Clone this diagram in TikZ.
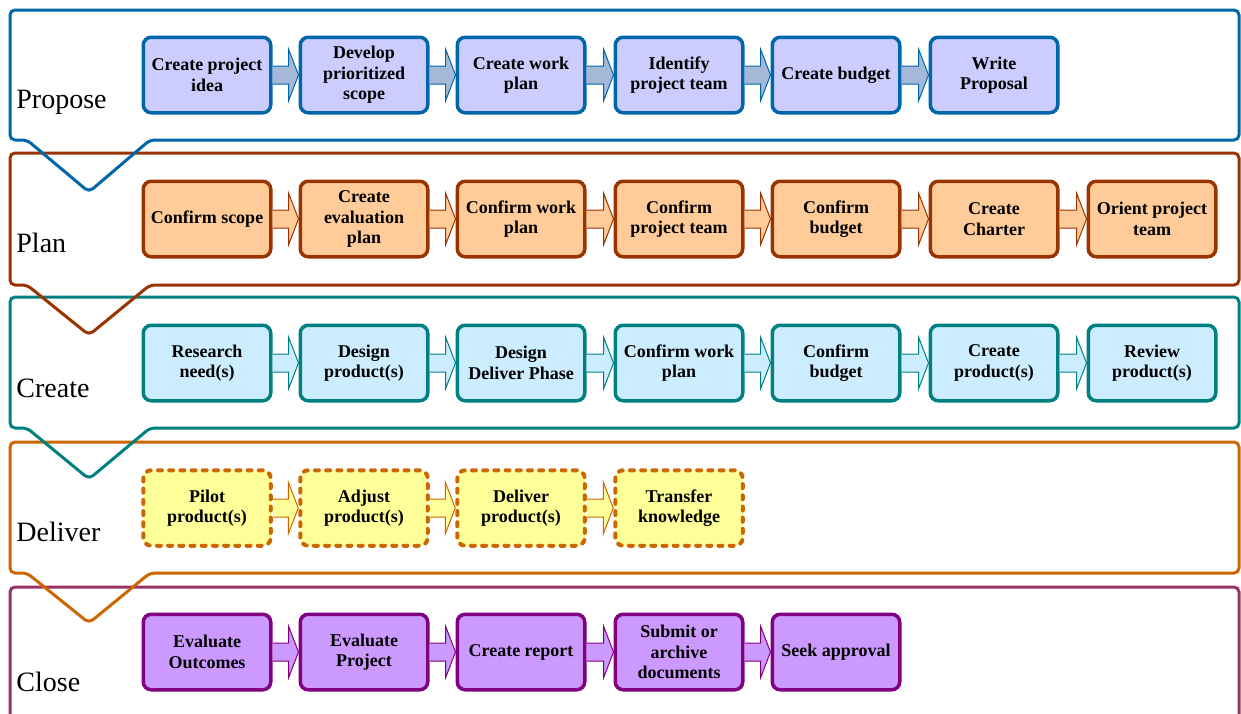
\documentclass[tikz,border=0pt]{standalone}
\usepackage{fontspec}
\setmainfont{Liberation Serif}
\usetikzlibrary{calc}

\definecolor{propblue}{RGB}{0,102,170}
\definecolor{planbrown}{RGB}{153,51,0}
\definecolor{createteal}{RGB}{0,128,128}
\definecolor{deliverorange}{RGB}{204,102,0}
\definecolor{closeplum}{RGB}{153,51,102}
\definecolor{closepurple}{RGB}{128,0,128}

\tikzset{
  band/.style={line width=1.5pt, rounded corners=2.5pt},
  phase/.style={anchor=base west, inner sep=0pt, font=\fontsize{14}{16}\selectfont},
  task/.style={rounded corners=4pt, line width=1.75pt, minimum width=63.75pt,
    minimum height=37.75pt, align=center, inner sep=1pt,
    font=\fontsize{9}{10.2}\selectfont\bfseries},
  proptask/.style={task, draw=propblue, fill={rgb,255:red,204;green,204;blue,255}},
  plantask/.style={task, draw=planbrown, fill={rgb,255:red,255;green,204;blue,153}},
  createtask/.style={task, draw=createteal, fill={rgb,255:red,204;green,236;blue,255}},
  delivertask/.style={task, draw=deliverorange, fill={rgb,255:red,255;green,255;blue,153},
    line width=2pt, dash pattern=on 2pt off 3.6pt, line cap=round},
  closetask/.style={task, draw=closepurple, fill={rgb,255:red,204;green,153;blue,255}},
  proparr/.style={draw=propblue, line width=0.5pt, fill={rgb,255:red,166;green,184;blue,216}},
  planarr/.style={draw=planbrown, line width=0.5pt, fill={rgb,255:red,255;green,204;blue,153}},
  createarr/.style={draw=createteal, line width=0.5pt, fill={rgb,255:red,204;green,236;blue,255}},
  deliverarr/.style={draw=deliverorange, line width=0.5pt, fill={rgb,255:red,255;green,255;blue,153}},
  closearr/.style={draw=closepurple, line width=0.5pt, fill={rgb,255:red,204;green,153;blue,255}},
}

% block arrow from box #1 to box #2
\newcommand{\blockarr}[3]{%
  \filldraw[#3] ($(#1.east)+(0,-9)$) -- ($(#2.west)+(-10,-9)$) -- ($(#2.west)+(-10,-26)$)
    -- (#2.west) -- ($(#2.west)+(-10,26)$) -- ($(#2.west)+(-10,9)$) -- ($(#1.east)+(0,9)$);}

\begin{document}
\begin{tikzpicture}[x=0.5pt,y=-0.5pt]
\useasboundingbox (0,0) rectangle (1241,713);

% bands
\draw[band, closeplum] (10,740) -- (10,587) -- (1239,587) -- (1239,740);
\draw[band, deliverorange] (700,573) -- (1239,573) -- (1239,442) -- (10,442) -- (10,573)
  -- (27,573) -- (89,623) -- (150,573) -- cycle;
\draw[band, createteal] (700,428) -- (1239,428) -- (1239,297) -- (10,297) -- (10,428)
  -- (27,428) -- (89,479) -- (150,428) -- cycle;
\draw[band, planbrown] (700,285) -- (1239,285) -- (1239,153) -- (10,153) -- (10,285)
  -- (27,285) -- (89,335) -- (150,285) -- cycle;
\draw[band, propblue] (700,140) -- (1239,140) -- (1239,10) -- (10,10) -- (10,140)
  -- (27,140) -- (89,192) -- (150,140) -- cycle;

\node[phase] (propose) at (16,108) {Propose};
\node[phase] (plan) at (16,252) {Plan};
\node[phase] (create) at (16,397) {Create};
\node[phase] (deliver) at (16,541) {Deliver};
\node[phase] (close) at (16,691) {Close};

% Propose
\node[proptask] (p1) at (207,75) {Create project\\idea};
\node[proptask] (p2) at (364,75) {Develop\\prioritized\\scope};
\node[proptask] (p3) at (521,75) {Create work\\plan};
\node[proptask] (p4) at (679,75) {Identify\\project team};
\node[proptask] (p5) at (836,75) {Create budget};
\node[proptask] (p6) at (994,75) {Write\\Proposal};

% Plan
\node[plantask] (l1) at (207,219) {Confirm scope};
\node[plantask] (l2) at (364,219) {Create\\evaluation\\plan};
\node[plantask] (l3) at (521,219) {Confirm work\\plan};
\node[plantask] (l4) at (679,219) {Confirm\\project team};
\node[plantask] (l5) at (836,219) {Confirm\\budget};
\node[plantask] (l6) at (994,219) {Create\\Charter};
\node[plantask] (l7) at (1152,219) {Orient project\\team};

% Create
\node[createtask] (c1) at (207,363) {Research\\need(s)};
\node[createtask] (c2) at (364,363) {Design\\product(s)};
\node[createtask] (c3) at (521,363) {Design\\Deliver Phase};
\node[createtask] (c4) at (679,363) {Confirm work\\plan};
\node[createtask] (c5) at (836,363) {Confirm\\budget};
\node[createtask] (c6) at (994,363) {Create\\product(s)};
\node[createtask] (c7) at (1152,363) {Review\\product(s)};

% Deliver
\node[delivertask] (d1) at (207,508) {Pilot\\product(s)};
\node[delivertask] (d2) at (364,508) {Adjust\\product(s)};
\node[delivertask] (d3) at (521,508) {Deliver\\product(s)};
\node[delivertask] (d4) at (679,508) {Transfer\\knowledge};

% Close
\node[closetask] (e1) at (207,652) {Evaluate\\Outcomes};
\node[closetask] (e2) at (364,652) {Evaluate\\Project};
\node[closetask] (e3) at (521,652) {Create report};
\node[closetask] (e4) at (679,652) {Submit or\\archive\\documents};
\node[closetask] (e5) at (836,652) {Seek approval};

\blockarr{p1}{p2}{proparr} \blockarr{p2}{p3}{proparr} \blockarr{p3}{p4}{proparr}
\blockarr{p4}{p5}{proparr} \blockarr{p5}{p6}{proparr}

\blockarr{l1}{l2}{planarr} \blockarr{l2}{l3}{planarr} \blockarr{l3}{l4}{planarr}
\blockarr{l4}{l5}{planarr} \blockarr{l5}{l6}{planarr} \blockarr{l6}{l7}{planarr}

\blockarr{c1}{c2}{createarr} \blockarr{c2}{c3}{createarr} \blockarr{c3}{c4}{createarr}
\blockarr{c4}{c5}{createarr} \blockarr{c5}{c6}{createarr} \blockarr{c6}{c7}{createarr}

\blockarr{d1}{d2}{deliverarr} \blockarr{d2}{d3}{deliverarr} \blockarr{d3}{d4}{deliverarr}

\blockarr{e1}{e2}{closearr} \blockarr{e2}{e3}{closearr} \blockarr{e3}{e4}{closearr}
\blockarr{e4}{e5}{closearr}
\end{tikzpicture}
\end{document}
